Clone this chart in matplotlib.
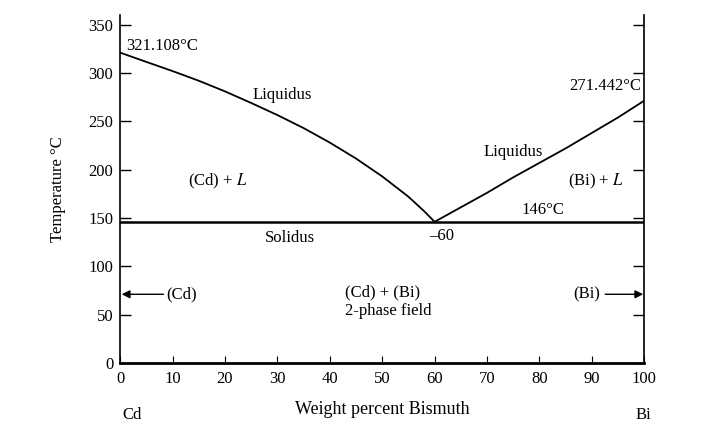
import numpy as np
import matplotlib
matplotlib.use('Agg')
import matplotlib.pyplot as plt

plt.rcParams['font.family'] = ['Liberation Serif', 'DejaVu Serif']
plt.rcParams['mathtext.fontset'] = 'stix'

# liquidus, Cd side (wt% Bi, temperature)
liq_cd_x = [0, 5, 10, 15, 20, 25, 30, 35, 40, 45, 50, 55, 58, 60]
liq_cd_t = [321.1, 311.5, 302, 292, 281, 269, 256.5, 243, 228, 211.5, 193, 172, 157, 146]
# liquidus, Bi side
liq_bi_x = [60, 65, 70, 75, 80, 85, 90, 95, 100]
liq_bi_t = [146, 161, 176, 192, 207, 222, 238, 254, 271.4]
# eutectic isotherm (solidus)
sol_x = [0, 100]
sol_t = [146, 146]

xticks = [0, 10, 20, 30, 40, 50, 60, 70, 80, 90, 100]
yticks = [0, 50, 100, 150, 200, 250, 300, 350]

fig = plt.figure(figsize=(7.28, 4.42), dpi=100)
ax = fig.add_axes([0.165, 0.179, 0.72, 0.787])

ax.plot(liq_cd_x, liq_cd_t, color='black', lw=1.3)
ax.plot(liq_bi_x, liq_bi_t, color='black', lw=1.3)
ax.plot(sol_x, sol_t, color='black', lw=1.8)

ax.set_xlim(0, 100)
ax.set_ylim(0, 360)
ax.set_xticks(xticks)
ax.set_yticks(yticks)
ax.spines['top'].set_visible(False)
ax.spines['bottom'].set_linewidth(2)
ax.spines['left'].set_linewidth(1.2)
ax.spines['right'].set_linewidth(1.2)
ax.tick_params(axis='y', direction='in', length=8, width=1, right=True, labelsize=12, pad=5)
ax.tick_params(axis='x', direction='in', length=5, width=0.8, labelsize=12, pad=6)

ax.set_xlabel('Weight percent Bismuth', fontsize=13, labelpad=10)
ax.set_ylabel('Temperature °C', fontsize=12, labelpad=16)

fs = 12
ax.text(1.2, 328, '321.108°C', fontsize=fs, va='center')
ax.text(99.5, 287, '271.442°C', fontsize=fs, va='center', ha='right')
ax.text(31, 277, 'Liquidus', fontsize=fs, ha='center', va='center')
ax.text(75, 218, 'Liquidus', fontsize=fs, ha='center', va='center')
ax.text(18.7, 188, '(Cd) + $L$', fontsize=fs, ha='center', va='center')
ax.text(90.8, 188, '(Bi) + $L$', fontsize=fs, ha='center', va='center')
ax.text(80.6, 158, '146°C', fontsize=fs, ha='center', va='center')
ax.text(32.4, 129, 'Solidus', fontsize=fs, ha='center', va='center')
ax.text(61.3, 131, '–60', fontsize=fs, ha='center', va='center')
ax.text(42.9, 73, '(Cd) + (Bi)', fontsize=fs, ha='left', va='center')
ax.text(42.9, 54, '2-phase field', fontsize=fs, ha='left', va='center')

ax.annotate('(Cd)', xy=(0.3, 71), xytext=(8.8, 71), fontsize=fs, va='center',
            arrowprops=dict(arrowstyle='-|>', color='black', lw=1, shrinkA=0, shrinkB=0))
ax.annotate('(Bi)', xy=(99.8, 71), xytext=(91.5, 71), fontsize=fs, va='center', ha='right',
            arrowprops=dict(arrowstyle='-|>', color='black', lw=1, shrinkA=2, shrinkB=0))

fig.text(122 / 728, 1 - 415 / 442, 'Cd', fontsize=fs, ha='left', va='center')
fig.text(643 / 728, 1 - 415 / 442, 'Bi', fontsize=fs, ha='center', va='center')

fig.savefig('out.png', dpi=100)
